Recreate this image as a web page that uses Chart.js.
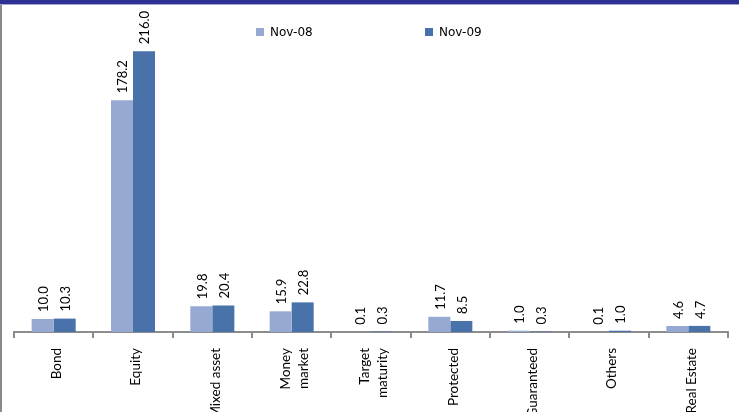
<!DOCTYPE html>
<html>
<head>
<meta charset="utf-8">
<script src="https://cdn.jsdelivr.net/npm/chart.js@4/dist/chart.umd.min.js"></script>
<style>
  html, body { margin: 0; padding: 0; background: #fff; overflow: hidden; }
  #wrap { position: relative; width: 739px; height: 412px; overflow: hidden; background: #fff; }
  #band { position: absolute; left: 0; top: 0; width: 739px; height: 4px; background: #2E3192; border-bottom: 1px solid #A3A5D4; }
  #lborder { position: absolute; left: 0; top: 5px; width: 2px; height: 407px; background: #8a8a8a; }
  #cv { position: absolute; left: 0; top: 0; }
  .leg { position: absolute; top: 25px; font: 12px "DejaVu Sans", sans-serif; color: #000; white-space: nowrap; }
  .leg i { display: inline-block; width: 8px; height: 8px; margin-right: 6px; vertical-align: 0px; }
  #src { position: absolute; left: 7px; top: 408px; font: 14px Lato, sans-serif; color: #000; }
</style>
</head>
<body>
<div id="wrap">
  <canvas id="cv" width="739" height="412"></canvas>
  <div id="band"></div>
  <div id="lborder"></div>
  <div id="legend"></div>
  <div id="src">Source: Lipper FMI</div>
</div>
<script>
const categories = ["Bond", "Equity", "Mixed asset", ["Money", "market"], ["Target", "maturity"], "Protected", "Guaranteed", "Others", "Real Estate"];
const seriesNames = ["Nov-08", "Nov-09"];
const nov08 = [10.0, 178.2, 19.8, 15.9, 0.1, 11.7, 1.0, 0.1, 4.6];
const nov09 = [10.3, 216.0, 20.4, 22.8, 0.3, 8.5, 0.3, 1.0, 4.7];
const colors = ["#95A9D2", "#4A72AA"];

// HTML legend
const legendEl = document.getElementById('legend');
const legendX = [256, 425];
seriesNames.forEach((name, i) => {
  const d = document.createElement('div');
  d.className = 'leg';
  d.style.left = legendX[i] + 'px';
  d.innerHTML = '<i style="background:' + colors[i] + '"></i>' + name;
  legendEl.appendChild(d);
});

const valueLabels = {
  id: 'valueLabels',
  afterDatasetsDraw(chart) {
    const ctx = chart.ctx;
    ctx.save();
    ctx.font = '13px Lato, sans-serif';
    ctx.fillStyle = '#000';
    ctx.textAlign = 'left';
    ctx.textBaseline = 'middle';
    chart.data.datasets.forEach((ds, di) => {
      const meta = chart.getDatasetMeta(di);
      meta.data.forEach((bar, i) => {
        const v = ds.data[i];
        ctx.save();
        ctx.translate(bar.x + 1, bar.y - 7);
        ctx.rotate(-Math.PI / 2);
        ctx.fillText(v.toFixed(1), 0, 0);
        ctx.restore();
      });
    });
    ctx.restore();
  }
};

// Nudge x tick labels: single-line a little right, multi-line block left (as in the source chart)
const labelNudge = {
  id: 'labelNudge',
  beforeDraw(chart) {
    try {
      const s = chart.scales.x;
      const items = s.getLabelItems();
      items.forEach(it => {
        if (it._nudged) return;
        const multi = Array.isArray(it.label) && it.label.length > 1;
        it.options.translation[0] += multi ? -6 : 3;
        it._nudged = true;
      });
    } catch (e) {}
  }
};

new Chart(document.getElementById('cv'), {
  type: 'bar',
  data: {
    labels: categories,
    datasets: [
      { label: seriesNames[0], data: nov08, backgroundColor: colors[0], borderWidth: 0 },
      { label: seriesNames[1], data: nov09, backgroundColor: colors[1], borderWidth: 0 }
    ]
  },
  options: {
    responsive: false,
    animation: false,
    devicePixelRatio: 1,
    categoryPercentage: 0.555,
    barPercentage: 1.0,
    layout: { padding: { left: 14, right: 11, top: 7, bottom: 0 } },
    plugins: { legend: { display: false }, tooltip: { enabled: false } },
    scales: {
      x: {
        afterFit: (scale) => { scale.height = 80; },
        grid: { display: true, drawOnChartArea: false, drawTicks: true, tickLength: 6, color: '#8c8c8c', lineWidth: 2, offset: true },
        border: { display: true, color: '#8c8c8c', width: 2 },
        ticks: {
          minRotation: 90, maxRotation: 90, autoSkip: false, padding: 10,
          color: '#000',
          font: { family: 'Lato, sans-serif', size: 13.5, lineHeight: 1.3 }
        }
      },
      y: {
        display: false,
        min: 0, max: 250
      }
    }
  },
  plugins: [valueLabels, labelNudge]
});
</script>
</body>
</html>
